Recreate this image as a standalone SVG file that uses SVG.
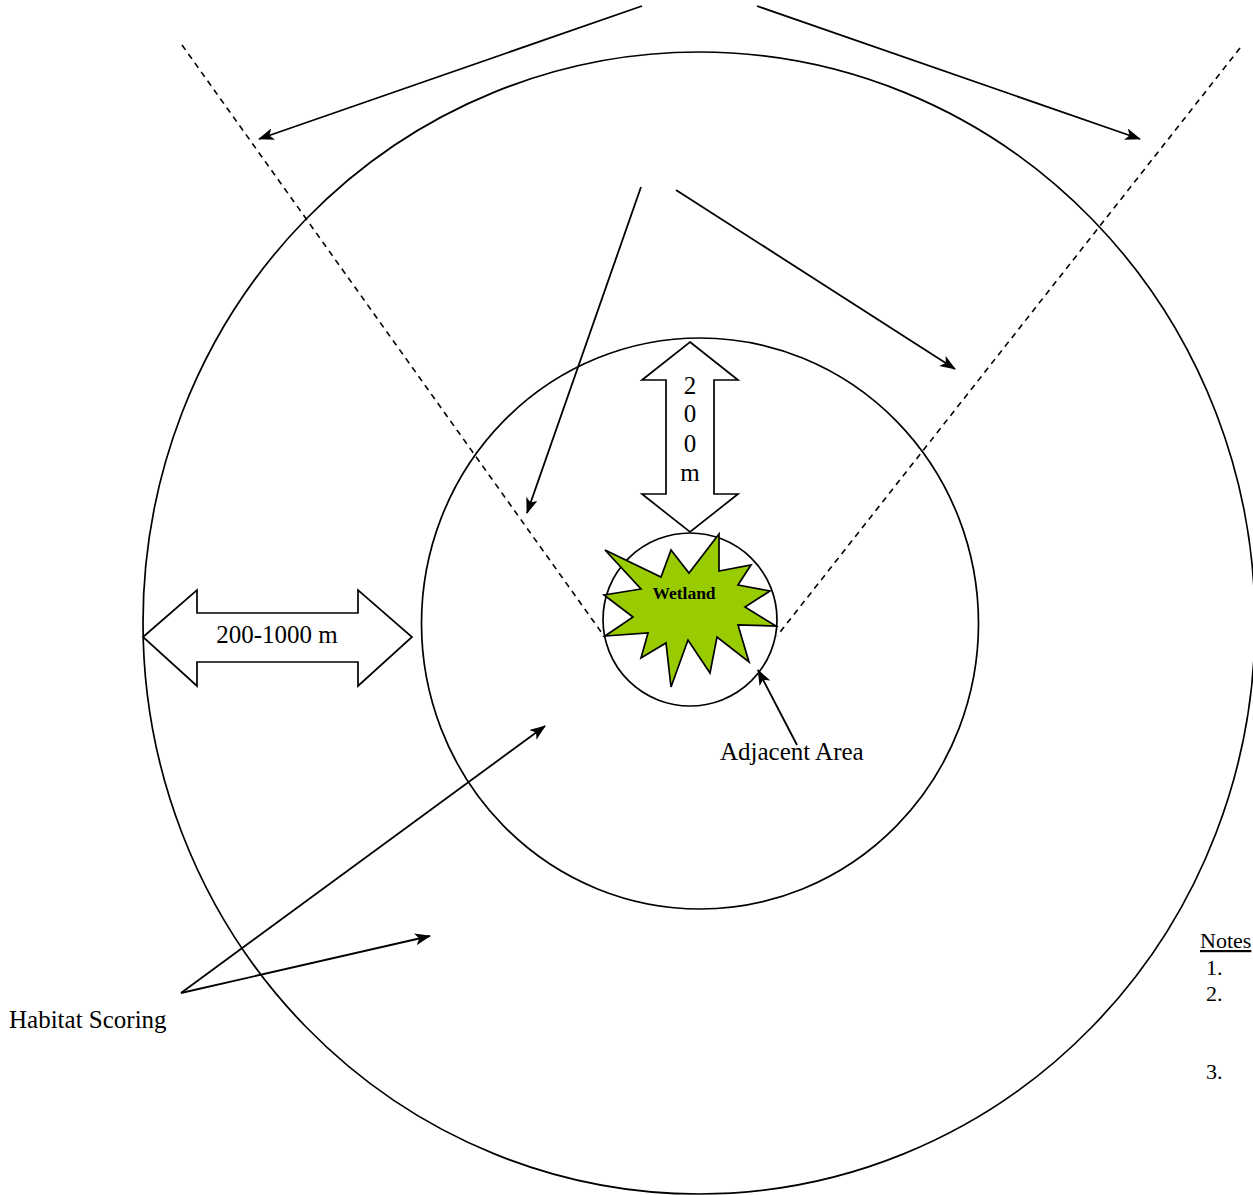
<svg xmlns="http://www.w3.org/2000/svg" width="1253" height="1195" viewBox="0 0 1253 1195">
<style>
.ring{fill:none;stroke:#000;stroke-width:1.7}
.dash{fill:none;stroke:#000;stroke-width:1.6;stroke-dasharray:6,5}
.arr{fill:none;stroke:#000;stroke-width:1.8;marker-end:url(#ah)}
.blk{fill:#fff;stroke:#000;stroke-width:1.7;stroke-linejoin:miter}
.t{font-family:"Liberation Serif",serif;font-size:25px;fill:#000}
.n{font-family:"Liberation Serif",serif;font-size:22px;fill:#000}
</style>
<defs>
<marker id="ah" viewBox="0 0 16 12" refX="15" refY="6" markerWidth="16" markerHeight="12" markerUnits="userSpaceOnUse" orient="auto">
<path d="M0,0 L16,6 L0,12 L4,6 z" fill="#000"/>
</marker>
</defs>
<rect width="1253" height="1195" fill="#fff"/>
<g id="outer-ring"><ellipse class="ring" cx="699" cy="623" rx="556" ry="571"/></g>
<g id="middle-ring"><ellipse class="ring" cx="700" cy="623.5" rx="278.5" ry="285.5"/></g>
<g id="connectors">
<line class="dash" x1="182" y1="45" x2="604" y2="636"/>
<line class="dash" x1="1240" y1="48" x2="777" y2="636"/>
<line class="arr" x1="642" y1="6" x2="259" y2="139"/>
<line class="arr" x1="757" y1="6" x2="1140" y2="139"/>
<line class="arr" x1="641" y1="187" x2="527" y2="513"/>
<line class="arr" x1="676" y1="190" x2="955" y2="369"/>
<line class="arr" x1="181" y1="993" x2="545" y2="726"/>
<line class="arr" x1="181" y1="993" x2="430" y2="936"/>
<line class="arr" x1="797" y1="745" x2="758" y2="670"/>
</g>
<g id="adjacent-ring"><ellipse class="ring" cx="690" cy="619.5" rx="87" ry="86.5"/></g>
<g id="wetland">
<polygon fill="#99cc00" stroke="#000" stroke-width="1.7" stroke-linejoin="miter" points="605,550 661,577 671,550 689,573 719,534 719,571 751,565 738,585 770,591 745,607 776,626 738,625 749,662 717,637 710,673 688,640 671,687 666,643 641,658 648,633 605,636 633,617 604,595 641,589"/>
<text x="684" y="599" text-anchor="middle" font-family="Liberation Serif,serif" font-weight="bold" font-size="17.5">Wetland</text>
</g>
<g id="arrow-200m">
<polygon class="blk" points="690,342 738,380 714,380 714,494 738,494 690,532 642,494 666,494 666,380 642,380"/>
<text class="t" x="690" y="394" text-anchor="middle">2</text>
<text class="t" x="690" y="422" text-anchor="middle">0</text>
<text class="t" x="690" y="452" text-anchor="middle">0</text>
<text class="t" x="690" y="481" text-anchor="middle">m</text>
</g>
<g id="arrow-200-1000m">
<polygon class="blk" points="143,637 197,590 197,613 358,613 358,590 412,637 358,686 358,662 197,662 197,686"/>
<text class="t" x="277" y="643" text-anchor="middle">200-1000 m</text>
</g>
<g id="label-adjacent"><text class="t" x="720" y="760">Adjacent Area</text></g>
<g id="label-habitat"><text class="t" x="9" y="1028">Habitat Scoring</text></g>
<g id="notes">
<text class="n" x="1200" y="948" text-decoration="underline">Notes</text>
<text class="n" x="1206" y="975">1.</text>
<text class="n" x="1206" y="1001">2.</text>
<text class="n" x="1206" y="1079">3.</text>
</g>
</svg>
